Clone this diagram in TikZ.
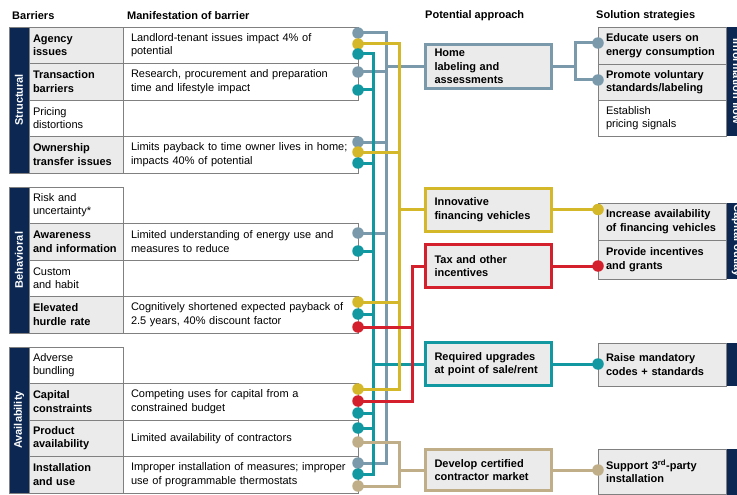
\documentclass[tikz,border=0pt]{standalone}
\usepackage{fontspec}
\setmainfont{Liberation Sans}
\usepackage{tikz}
\usetikzlibrary{positioning}
\definecolor{navy}{RGB}{12,40,82}
\definecolor{steel}{RGB}{122,154,172}
\definecolor{mustard}{RGB}{212,184,42}
\definecolor{lineteal}{RGB}{18,152,160}
\definecolor{linered}{RGB}{212,32,44}
\definecolor{linetan}{RGB}{192,174,136}
\definecolor{cellgray}{RGB}{235,235,235}
\definecolor{rulegray}{RGB}{128,128,128}
\newcommand{\cellfont}{\fontsize{11}{13.5}\selectfont}
\tikzstyle{cell} = [
  rectangle,
  draw=rulegray,
  line width=0.8pt,
  outer sep=0pt,
  inner ysep=0pt,
  align=left,
  fill=white,
  font=\cellfont,
]
\tikzstyle{hard} = [
  fill=cellgray,
  font=\cellfont\bfseries,
]
\tikzstyle{barrier} = [
  cell,
  minimum height=36.5pt,
  text width=86pt,
  inner xsep=4pt,
]
\tikzstyle{effect} = [
  cell,
  minimum height=36.5pt,
  text width=219pt,
  inner xsep=8pt,
]
\tikzstyle{solution} = [
  cell,
  hard,
  text width=112pt,
  inner xsep=8pt,
]
\tikzstyle{group} = [
  rectangle,
  fill=navy,
  draw=rulegray,
  line width=0.8pt,
  text=white,
  font=\cellfont\bfseries,
  minimum height=20pt,
  inner sep=0pt,
  rotate=90,
]
\tikzstyle{sidebar} = [
  rectangle,
  fill=navy,
  text=white,
  font=\cellfont\bfseries,
  minimum height=20pt,
  inner sep=0pt,
  rotate=-90,
]
\tikzstyle{approach} = [
  rectangle,
  line width=3pt,
  fill=cellgray,
  text width=108pt,
  inner xsep=9pt,
  inner ysep=0pt,
  outer sep=0pt,
  minimum height=43pt,
  align=left,
  font=\cellfont\bfseries,
]
\tikzstyle{plug} = [
  circle,
  inner sep=0pt,
  minimum size=11.5pt,
]
\tikzstyle{link} = [
  line width=3pt,
]
\tikzstyle{head} = [
  anchor=west,
  inner sep=0pt,
  font=\cellfont\bfseries,
]

\begin{document}
\begin{tikzpicture}[
    x=1pt,
    y=-1pt,
  ]
  \useasboundingbox (0,0) rectangle (737,495);
  \clip (0,0) rectangle (737,495);

  \node[head](hbarrier) at (12,16){Barriers};
  \node[head](hmanifest) at (127,16){Manifestation of barrier};
  \node[head](happroach) at (425,16){Potential approach};
  \node[head](hsolution) at (596,16){Solution strategies};

  \node[group, minimum width=146pt](structural) at (19,100){Structural};
  \node[barrier, hard, anchor=north west](agency) at (29,27){Agency\\issues};
  \node[barrier, hard, below=0pt of agency](transaction){Transaction\\barriers};
  \node[barrier, below=0pt of transaction](pricing){Pricing\\distortions};
  \node[barrier, hard, below=0pt of pricing](ownership){Ownership\\transfer issues};
  \node[effect, right=0pt of agency](agencyfx){Landlord-tenant issues impact 4\% of\\potential};
  \node[effect, right=0pt of transaction](transactionfx){Research, procurement and preparation\\time and lifestyle impact};
  \node[effect, right=0pt of ownership](ownershipfx){Limits payback to time owner lives in home;\\impacts 40\% of potential};

  \node[group, minimum width=146pt](behavioral) at (19,260){Behavioral};
  \node[barrier, anchor=north west](risk) at (29,187){Risk and\\uncertainty*};
  \node[barrier, hard, below=0pt of risk](awareness){Awareness\\and information};
  \node[barrier, below=0pt of awareness](custom){Custom\\and habit};
  \node[barrier, hard, below=0pt of custom](hurdle){Elevated\\hurdle rate};
  \node[effect, right=0pt of awareness](awarenessfx){Limited understanding of energy use and\\measures to reduce};
  \node[effect, right=0pt of hurdle](hurdlefx){Cognitively shortened expected payback of\\2.5 years, 40\% discount factor};

  \node[group, minimum width=146pt](availability) at (19,420){Availability};
  \node[barrier, anchor=north west](bundling) at (29,347){Adverse\\bundling};
  \node[barrier, hard, below=0pt of bundling](capital){Capital\\constraints};
  \node[barrier, hard, below=0pt of capital](product){Product\\availability};
  \node[barrier, hard, below=0pt of product](install){Installation\\and use};
  \node[effect, right=0pt of capital](capitalfx){Competing uses for capital from a\\constrained budget};
  \node[effect, right=0pt of product](productfx){Limited availability of contractors};
  \node[effect, right=0pt of install](installfx){Improper installation of measures; improper\\use of programmable thermostats};

  \node[approach, draw=steel, minimum height=44pt](home) at (488.5,66.5){Home\\labeling and\\assessments};
  \node[approach, draw=mustard](fin) at (488.5,209.5){Innovative\\financing vehicles};
  \node[approach, draw=linered](tax) at (488.5,266){Tax and other\\incentives};
  \node[approach, draw=lineteal](req) at (488.5,364){Required upgrades\\at point of sale/rent};
  \node[approach, draw=linetan, minimum height=41pt](dev) at (488.5,470){Develop certified\\contractor market};

  \node[solution, minimum height=37pt, anchor=north west](educate) at (598,27){Educate users on\\energy consumption};
  \node[solution, minimum height=36pt, below=0pt of educate](promote){Promote voluntary\\standards/labeling};
  \node[solution, fill=white, font=\cellfont, minimum height=36pt, below=0pt of promote](signals){Establish\\pricing signals};
  \node[solution, minimum height=37pt, anchor=north west](increase) at (598,203){Increase availability\\of financing vehicles};
  \node[solution, minimum height=39pt, below=0pt of increase](grants){Provide incentives\\and grants};
  \node[solution, minimum height=43pt, anchor=north west](codes) at (598,343){Raise mandatory\\codes + standards};
  \node[solution, minimum height=45pt, anchor=north west](third) at (598,449){Support 3\textsuperscript{rd}-party\\installation};

  \node[sidebar, minimum width=109pt](infoflow) at (737,81.5){Information flow};
  \node[sidebar, minimum width=76pt](outlay) at (737,241){Capital outlay};
  \node[sidebar, minimum width=43pt](codebar) at (737,364.5){};
  \node[sidebar, minimum width=46pt](thirdbar) at (737,472){};

  \coordinate (agG) at (358,33);
  \coordinate (agY) at (358,44);
  \coordinate (agT) at (358,54);
  \coordinate (trG) at (358,72);
  \coordinate (trT) at (358,90);
  \coordinate (owG) at (358,142);
  \coordinate (owY) at (358,152);
  \coordinate (owT) at (358,163);
  \coordinate (awG) at (358,233);
  \coordinate (awT) at (358,251);
  \coordinate (elY) at (358,302);
  \coordinate (elT) at (358,314);
  \coordinate (elR) at (358,327);
  \coordinate (caY) at (358,389);
  \coordinate (caR) at (358,401);
  \coordinate (caT) at (358,413);
  \coordinate (prT) at (358,428);
  \coordinate (prN) at (358,442);
  \coordinate (inG) at (358,463);
  \coordinate (inT) at (358,474);
  \coordinate (inN) at (358,486);
  \coordinate (eduP) at (598,43);
  \coordinate (proP) at (598,80);
  \coordinate (incP) at (fin.east -| increase.west);
  \coordinate (grP) at (tax.east -| grants.west);
  \coordinate (codP) at (req.east -| codes.west);
  \coordinate (supP) at (dev.east -| third.west);

  \coordinate (tbus) at (373,0);
  \coordinate (gbus) at (386,0);
  \coordinate (ybus) at (399,0);
  \coordinate (rbus) at (412,0);
  \coordinate[right=23.5pt of home.east](split);

  \draw[link, draw=steel] (agG) -- (agG -| gbus) -- (inG -| gbus) -- (inG);
  \foreach \p in {trG, owG, awG}
    \draw[link, draw=steel] (\p) -- (\p -| gbus);
  \draw[link, draw=steel] (home.west) -- (home.west -| gbus);
  \draw[link, draw=lineteal] (agT) -- (agT -| tbus) -- (inT -| tbus) -- (inT);
  \foreach \p in {trT, owT, awT, elT, caT, prT}
    \draw[link, draw=lineteal] (\p) -- (\p -| tbus);
  \draw[link, draw=lineteal] (req.west) -- (req.west -| tbus);
  \draw[link, draw=mustard] (agY) -- (agY -| ybus) -- (caY -| ybus) -- (caY);
  \foreach \p in {owY, elY}
    \draw[link, draw=mustard] (\p) -- (\p -| ybus);
  \draw[link, draw=mustard] (fin.west) -- (fin.west -| ybus);
  \draw[link, draw=linered] (tax.west) -- (tax.west -| rbus) -- (caR -| rbus) -- (caR);
  \draw[link, draw=linered] (elR) -- (elR -| rbus);
  \draw[link, draw=linetan] (prN) -- (prN -| ybus) -- (inN -| ybus) -- (inN);
  \draw[link, draw=linetan] (dev.west) -- (dev.west -| ybus);

  \draw[link, draw=steel] (home.east) -- (split);
  \draw[link, draw=steel] (eduP) -| (split) |- (proP);
  \draw[link, draw=mustard] (fin.east) -- (incP);
  \draw[link, draw=linered] (tax.east) -- (grP);
  \draw[link, draw=lineteal] (req.east) -- (codP);
  \draw[link, draw=linetan] (dev.east) -- (supP);

  \foreach \p in {agG, trG, owG, awG, inG, eduP, proP}
    \node[plug, fill=steel](\p dot) at (\p){};
  \foreach \p in {agY, owY, elY, caY, incP}
    \node[plug, fill=mustard](\p dot) at (\p){};
  \foreach \p in {agT, trT, owT, awT, elT, caT, prT, inT, codP}
    \node[plug, fill=lineteal](\p dot) at (\p){};
  \foreach \p in {elR, caR, grP}
    \node[plug, fill=linered](\p dot) at (\p){};
  \foreach \p in {prN, inN, supP}
    \node[plug, fill=linetan](\p dot) at (\p){};
\end{tikzpicture}
\end{document}
